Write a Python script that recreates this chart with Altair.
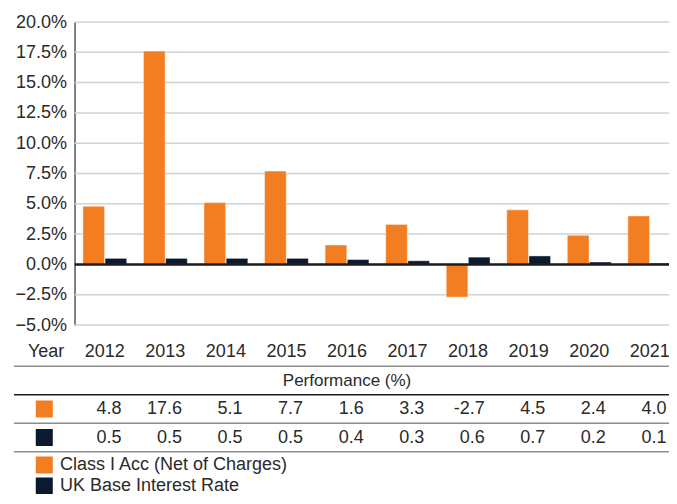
import altair as alt
import pandas as pd

# ---- data ----
years = ["2012", "2013", "2014", "2015", "2016", "2017", "2018", "2019", "2020", "2021"]
fund = [4.8, 17.6, 5.1, 7.7, 1.6, 3.3, -2.7, 4.5, 2.4, 4.0]
base_rate = [0.5, 0.5, 0.5, 0.5, 0.4, 0.3, 0.6, 0.7, 0.2, 0.1]
series_names = ["Class I Acc (Net of Charges)", "UK Base Interest Rate"]
series_colors = ["#F37E22", "#0B1A2E"]
y_ticks = [-5.0, -2.5, 0.0, 2.5, 5.0, 7.5, 10.0, 12.5, 15.0, 17.5, 20.0]
label_col = "Year"
header_text = "Performance (%)"
table_rows = ["year", "header", "fund", "base"]
legend_rows = ["leg_fund", "leg_base"]

columns = [label_col] + years

# ---- layout / style ----
W = 655                  # visible width (svg clips the rest, like the reference)
STEP = 60.55             # column pitch
PLOT_H = 303
ROW = 28.5
TABLE_TOP = 330 - ROW / 2
TABLE_BOTTOM = TABLE_TOP + ROW * len(table_rows)
LEG_ROW = 21
LEG_TOP = 443 - LEG_ROW / 2
LEG_BOTTOM = LEG_TOP + LEG_ROW * len(legend_rows)
H = 472
FONT = "Liberation Sans"
FS = 18
TXT = "#2a2a2a"

xscale = alt.Scale(domain=columns, range=[0, STEP * len(columns)], paddingInner=0, paddingOuter=0)
yscale_bar = alt.Scale(domain=[-5, 20], range=[PLOT_H, 0], nice=False, zero=False)
yscale_tab = alt.Scale(domain=table_rows, range=[TABLE_TOP, TABLE_BOTTOM], paddingInner=0, paddingOuter=0)
yscale_leg = alt.Scale(domain=legend_rows, range=[LEG_TOP, LEG_BOTTOM], paddingInner=0, paddingOuter=0)
cscale = alt.Scale(domain=series_names, range=series_colors)

# ---- bars ----
bars_df = pd.DataFrame({
    "year": years * 2,
    "series": [series_names[0]] * len(years) + [series_names[1]] * len(years),
    "value": fund + base_rate,
})

bars = alt.Chart(bars_df).mark_bar(stroke="#ffffff", strokeWidth=1, strokeOpacity=0.45).encode(
    x=alt.X("year:N", scale=xscale, axis=None),
    xOffset=alt.XOffset("series:N", scale=alt.Scale(domain=series_names, paddingInner=0.02, paddingOuter=0.377)),
    y=alt.Y("value:Q", scale=yscale_bar, stack=None,
            axis=alt.Axis(values=y_ticks, labelExpr="format(datum.value, '.1f') + '%'",
                          offset=-STEP, grid=False, ticks=False, domainColor="#555555",
                          domainWidth=1.5, labelPadding=8, labelFont=FONT, labelFontSize=FS,
                          labelColor=TXT, title=None)),
    y2=alt.datum(0),
    color=alt.Color("series:N", scale=cscale, legend=None),
)

grid_df = pd.DataFrame({"v": y_ticks, "start": years[0], "end": years[-1]})
grid = alt.Chart(grid_df).mark_rule(color="#d2d2d2", strokeWidth=1.5).encode(
    x=alt.X("start:N", scale=xscale, bandPosition=0, axis=None),
    x2=alt.X2("end:N", bandPosition=1),
    y=alt.Y("v:Q", scale=yscale_bar, axis=None),
)

zero_df = pd.DataFrame({"v": [0.0], "start": years[0], "end": years[-1]})
zero = alt.Chart(zero_df).mark_rule(color="#1c1c1c", strokeWidth=2.5).encode(
    x=alt.X("start:N", scale=xscale, bandPosition=0, axis=None),
    x2=alt.X2("end:N", bandPosition=1),
    y=alt.Y("v:Q", scale=yscale_bar, axis=None),
)

# ---- table ----
year_row = pd.DataFrame({"col": columns, "row": "year", "text": columns})
val_rows = pd.DataFrame({
    "col": years * 2,
    "row": ["fund"] * len(years) + ["base"] * len(years),
    "text": [f"{v:.1f}" for v in fund] + [f"{v:.1f}" for v in base_rate],
})
header_df = pd.DataFrame({"col": [columns[len(columns) // 2]], "row": ["header"], "text": [header_text]})
legend_df = pd.DataFrame({"col": [label_col, label_col], "row": legend_rows, "text": series_names})
tab_squares_df = pd.DataFrame({"col": [label_col] * 2, "row": ["fund", "base"], "series": series_names})
leg_squares_df = pd.DataFrame({"col": [label_col] * 2, "row": legend_rows, "series": series_names})


def text_layer(df, align, pos, yscale, size=FS):
    return alt.Chart(df).mark_text(font=FONT, fontSize=size, color=TXT, align=align, baseline="middle").encode(
        x=alt.X("col:N", scale=xscale, bandPosition=pos, axis=None),
        y=alt.Y("row:N", scale=yscale, axis=None),
        text="text:N",
    )


def square_layer(df, yscale):
    return alt.Chart(df).mark_square(size=290, opacity=1).encode(
        x=alt.X("col:N", scale=xscale, axis=None),
        y=alt.Y("row:N", scale=yscale, axis=None),
        color=alt.Color("series:N", scale=cscale, legend=None),
    )


def rule_layer(rows, color, pos=0):
    return alt.Chart(pd.DataFrame({"row": rows})).mark_rule(color=color, strokeWidth=1.5).encode(
        y=alt.Y("row:N", scale=yscale_tab, bandPosition=pos, axis=None),
    )


t_year = text_layer(year_row, "right", 0.83, yscale_tab)
t_vals = text_layer(val_rows, "right", 0.775, yscale_tab)
t_head = text_layer(header_df, "center", 0.5, yscale_tab, 17)
t_leg = text_layer(legend_df, "left", 0.76, yscale_leg)

gray_rules = rule_layer(["header", "base"], "#8c8c8c")
bottom_rule = rule_layer(["base"], "#8c8c8c", pos=1)
black_rule = rule_layer(["fund"], "#1c1c1c")

chart = alt.layer(
    grid, bars, zero, gray_rules, bottom_rule, black_rule,
    t_year, t_vals, t_head, t_leg,
    square_layer(tab_squares_df, yscale_tab), square_layer(leg_squares_df, yscale_leg),
).resolve_scale(y="independent").properties(
    width=W, height=H, background="white",
    autosize=alt.AutoSizeParams(type="none"),
    padding={"left": 6, "top": 14, "right": 0, "bottom": 0},
).configure_view(stroke=None)

chart.save("out.html", embed_options={"renderer": "svg", "actions": False})
